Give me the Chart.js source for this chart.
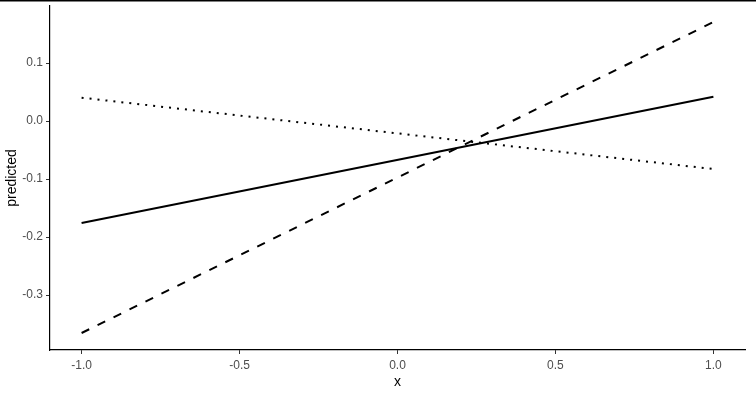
<!DOCTYPE html>
<html>
<head>
<meta charset="utf-8">
<script src="https://cdn.jsdelivr.net/npm/chart.js@4"></script>
<style>
  html, body { margin: 0; padding: 0; background: #fff; }
  canvas { display: block; }
</style>
</head>
<body>
<canvas id="c" width="756" height="395"></canvas>
<script>
// ---- data ----
const xValues = [-1, 1];
const solidSeries = [-0.176, 0.042];
const dashedSeries = [-0.3655, 0.1707];
const dottedSeries = [0.0402, -0.0828];
const xTicks = [-1, -0.5, 0, 0.5, 1];
const yTicks = [-0.3, -0.2, -0.1, 0, 0.1];
const xTitle = 'x';
const yTitle = 'predicted';

const toPoints = (ys) => xValues.map((x, i) => ({ x: x, y: ys[i] }));

const topBorder = {
  id: 'topBorder',
  afterDraw(chart) {
    const ctx = chart.ctx;
    ctx.save();
    ctx.fillStyle = '#000';
    ctx.fillRect(0, 0, chart.width, 1.5);
    ctx.restore();
  }
};

const tickFont = { family: '"Liberation Sans", Arial, sans-serif', size: 12 };
const titleFont = { family: '"Liberation Sans", Arial, sans-serif', size: 14 };

new Chart(document.getElementById('c'), {
  type: 'line',
  data: {
    datasets: [
      { data: toPoints(solidSeries), borderColor: '#000', borderWidth: 2, pointRadius: 0, fill: false, tension: 0 },
      { data: toPoints(dashedSeries), borderColor: '#000', borderWidth: 2, borderDash: [8.5, 9.3], pointRadius: 0, fill: false, tension: 0 },
      { data: toPoints(dottedSeries), borderColor: '#000', borderWidth: 2, borderDash: [2, 6], pointRadius: 0, fill: false, tension: 0 }
    ]
  },
  options: {
    responsive: false,
    animation: false,
    layout: { padding: { top: 6, right: 11, left: 0, bottom: 0 } },
    plugins: { legend: { display: false }, tooltip: { enabled: false } },
    scales: {
      x: {
        type: 'linear',
        min: -1.1,
        max: 1.1,
        afterBuildTicks(scale) { scale.ticks = xTicks.map(v => ({ value: v })); },
        afterFit(scale) { scale.height = 45; scale.paddingLeft = 0; scale.paddingRight = 0; },
        ticks: {
          color: '#4D4D4D',
          font: tickFont,
          padding: 4,
          maxRotation: 0,
          callback: (v) => Number(v).toFixed(1)
        },
        grid: { drawOnChartArea: false, drawTicks: true, tickLength: 4, tickColor: '#333', tickWidth: 1 },
        border: { display: true, color: '#000', width: 1.2 },
        title: { display: true, text: xTitle, color: '#000', font: titleFont, padding: { top: 0, bottom: 4 } }
      },
      y: {
        type: 'linear',
        min: -0.3948,
        max: 0.1983,
        afterBuildTicks(scale) { scale.ticks = yTicks.map(v => ({ value: v })); },
        afterFit(scale) { scale.width = 50; scale.paddingTop = 0; scale.paddingBottom = 0; },
        ticks: {
          color: '#4D4D4D',
          font: tickFont,
          padding: 3,
          callback: (v) => Number(v).toFixed(1)
        },
        grid: { drawOnChartArea: false, drawTicks: true, tickLength: 4, tickColor: '#333', tickWidth: 1 },
        border: { display: true, color: '#000', width: 1.2 },
        title: { display: true, text: yTitle, color: '#000', font: titleFont, padding: { top: 4, bottom: 0 } }
      }
    }
  },
  plugins: [topBorder]
});
</script>
</body>
</html>
